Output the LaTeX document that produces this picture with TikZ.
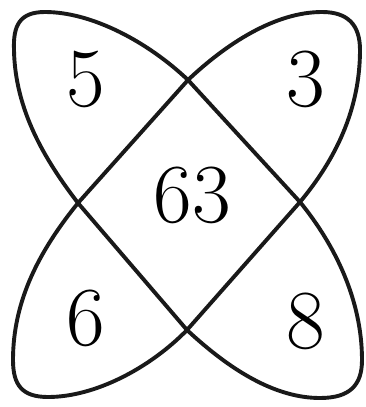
\documentclass[tikz,border=0pt]{standalone}
\usepackage{tikz}

\begin{document}
\begin{tikzpicture}[
    x=1pt, y=-1pt,
    loopline/.style={draw=black!90, line width=3.9pt, line join=round},
    num/.style={inner sep=0pt, font=\fontsize{84}{84}\selectfont}
]
\useasboundingbox (0,0) rectangle (366,407);

% crossing points
\coordinate (top) at (188,80);
\coordinate (left) at (78,203);
\coordinate (right) at (300,202);
\coordinate (bottom) at (187,330);

% loop from top left to bottom right
\draw[loopline] (top) .. controls (148,42) and (92,12) .. (45,12)
    .. controls (20,12) and (13,25) .. (14,50)
    .. controls (15,110) and (45,160) .. (left)
    -- (bottom)
    .. controls (230,370) and (275,398) .. (320,398)
    .. controls (350,398) and (362,385) .. (362,360)
    .. controls (362,300) and (335,245) .. (right)
    -- cycle;

% loop from top right to bottom left
\draw[loopline] (top) .. controls (226,44) and (275,12) .. (322,12)
    .. controls (348,12) and (360,25) .. (360,50)
    .. controls (360,110) and (335,160) .. (right)
    -- (bottom)
    .. controls (150,368) and (95,397) .. (48,397)
    .. controls (22,397) and (13,385) .. (13,360)
    .. controls (13,300) and (40,250) .. (left)
    -- cycle;

% numbers
\node[num] (n5) at (86,79) {5};
\node[num] (n3) at (306,79) {3};
\node[num] (n63) at (192,195) {63};
\node[num] (n6) at (86,318) {6};
\node[num] (n8) at (306,321) {8};

\end{tikzpicture}
\end{document}
